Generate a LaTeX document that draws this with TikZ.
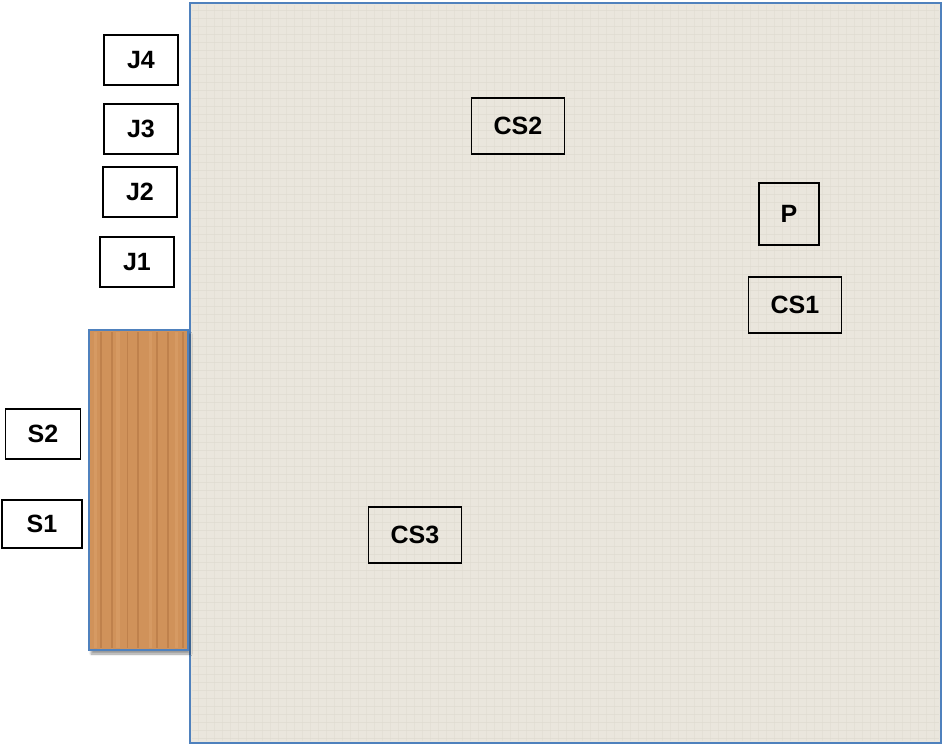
\documentclass[tikz,border=0pt]{standalone}
\usepackage{fontspec}
\setmainfont{Liberation Sans}
\usepackage{xcolor}
\definecolor{roomblue}{RGB}{79,129,189}
\definecolor{linen}{RGB}{234,230,221}
\definecolor{linenline}{RGB}{224,219,209}
\definecolor{oak}{RGB}{208,146,90}
\definecolor{oakdark}{RGB}{172,110,60}
\definecolor{oaklight}{RGB}{222,164,110}
\usetikzlibrary{positioning,shadows.blur}
\tikzset{
  tag/.style   ={rectangle,draw=black,line width=1.5pt,fill=white,
                 align=center,font=\bfseries\fontsize{25}{27}\selectfont,
                 minimum height=50pt,minimum width=74pt,inner sep=0pt},
  cstag/.style ={tag,fill=none,minimum height=56pt,minimum width=93pt},
  floor/.style ={draw=roomblue,line width=2pt,fill=linen},
  bench/.style ={draw=roomblue,line width=2pt,fill=oak,
                 blur shadow={shadow xshift=2pt,shadow yshift=-4pt,shadow blur steps=6}},
}

\begin{document}
\begin{tikzpicture}[x=1pt,y=-1pt]
  \useasboundingbox (0,0) rectangle (943,747);
  % room floor
  \draw[floor] (190,3) rectangle (941,743);
  \foreach \yy in {10,18,...,738}
    \draw[linenline,line width=0.5pt,opacity=0.7] (192,\yy) -- (939,\yy);
  \foreach \xx in {198,206,...,936}
    \draw[linenline,line width=0.5pt,opacity=0.5] (\xx,5) -- (\xx,741);
  % wooden bench
  \draw[bench] (89,330) rectangle (188,650);
  \foreach \xx/\w/\c in {95/3/oaklight,101/1.5/oakdark,112/2/oakdark,118/4/oaklight,
                         127/1/oakdark,138/2.5/oakdark,150/3/oaklight,157/1.2/oakdark,
                         168/2/oakdark,176/3/oaklight,183/1.5/oakdark}
    \draw[\c,line width=\w pt,opacity=0.45] (\xx,332) -- (\xx,648);
  \draw[roomblue,line width=2pt] (89,330) rectangle (188,650);
  % labels beside the room
  \node[tag] (j4) at (141,60) {J4};
  \node[tag] (j3) at (141,129) {J3};
  \node[tag] (j2) at (140,192) {J2};
  \node[tag] (j1) at (137,262) {J1};
  \node[tag,minimum width=75pt] (s2) at (43,434) {S2};
  \node[tag,minimum width=80pt,minimum height=48pt] (s1) at (42,524) {S1};
  % labels inside the room
  \node[cstag] (cs2) at (518,126) {CS2};
  \node[tag,fill=none,minimum width=60pt,minimum height=62pt] (p) at (789,214) {P};
  \node[cstag] (cs1) at (795,305) {CS1};
  \node[cstag] (cs3) at (415,535) {CS3};
\end{tikzpicture}
\end{document}
